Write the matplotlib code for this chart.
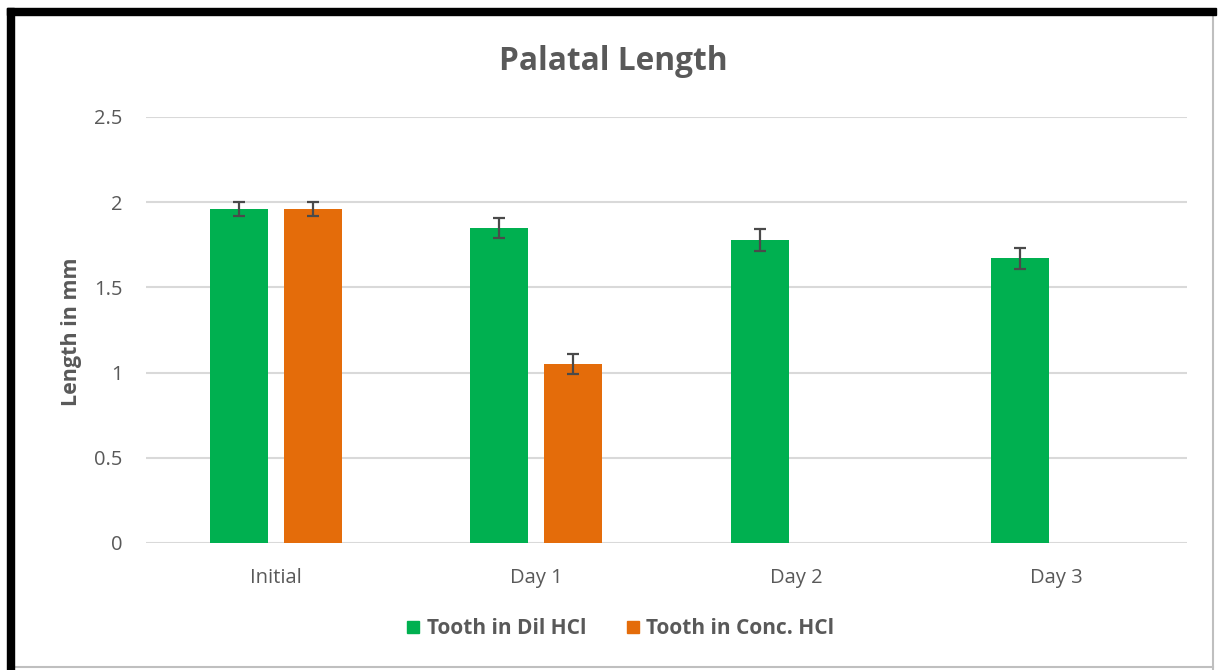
import numpy as np
import matplotlib
matplotlib.use("Agg")
import matplotlib.pyplot as plt
from matplotlib.patches import Rectangle
from matplotlib.lines import Line2D

# ── Data ──────────────────────────────────────────────────────────────────────
categories = ["Initial", "Day 1", "Day 2", "Day 3"]
series_names = ["Tooth in Dil HCl", "Tooth in Conc. HCl"]

dil_values = [1.96, 1.85, 1.78, 1.67]
dil_errors = [0.04, 0.06, 0.065, 0.06]

conc_values = [1.96, 1.05, np.nan, np.nan]
conc_errors = [0.04, 0.06, np.nan, np.nan]

yticks = [0, 0.5, 1, 1.5, 2, 2.5]
ytick_labels = ["0", "0.5", "1", "1.5", "2", "2.5"]

# ── Style ─────────────────────────────────────────────────────────────────────
GREEN = "#00B050"
ORANGE = "#E46C0A"
TEXT = "#595959"
GRID = "#D9D9D9"
ERR = "#4A4A4A"
plt.rcParams["font.family"] = ["Open Sans", "DejaVu Sans"]

fig = plt.figure(figsize=(12.18, 6.70), dpi=100)
W, H = 1218, 670
ax = fig.add_axes([146 / W, 1 - 543 / H, (1187 - 146) / W, (543 - 117) / H])

x = np.arange(len(categories))
bw = 0.223
off = 0.142

ax.bar(x - off, dil_values, bw, color=GREEN, zorder=3)
ax.bar(x + off, conc_values, bw, color=ORANGE, zorder=3)
err_kw = dict(fmt="none", ecolor=ERR, elinewidth=1.6, capsize=4.5, capthick=1.6, zorder=4)
ax.errorbar(x - off, dil_values, yerr=dil_errors, **err_kw)
ax.errorbar(x + off, conc_values, yerr=conc_errors, **err_kw)

ax.set_xlim(-0.5, len(categories) - 0.5)
ax.set_ylim(0, 2.5)
ax.set_yticks(yticks)
ax.set_yticklabels(ytick_labels)
ax.set_xticks(x)
ax.set_xticklabels(categories)
ax.tick_params(length=0, labelsize=14.5, colors=TEXT)
ax.tick_params(axis="y", pad=17)
ax.tick_params(axis="x", pad=18)
ax.grid(axis="y", color=GRID, linewidth=1.5, zorder=0)
ax.set_axisbelow(True)
for s in ax.spines.values():
    s.set_visible(False)

ax.set_ylabel("Length in mm", fontsize=15.5, fontweight="bold", color=TEXT)
ax.yaxis.set_label_coords((82 - 146) / 1041, 0.495)

fig.text(613 / W, 1 - 61 / H, "Palatal Length", ha="center", va="center",
         fontsize=22.8, fontweight="bold", color=TEXT)

handles = [Line2D([], [], marker="s", linestyle="none", markersize=8.5, color=GREEN),
           Line2D([], [], marker="s", linestyle="none", markersize=8.5, color=ORANGE)]
fig.legend(handles, series_names, loc="center", bbox_to_anchor=(620 / W, 1 - 629 / H),
           ncol=2, frameon=False, handlelength=0.7, handletextpad=0.3, columnspacing=1.9,
           prop=dict(size=15, weight="bold"), labelcolor=TEXT)

# frame: thick black top/left, thin grey right/bottom
fig.add_artist(Rectangle((7 / W, 1 - 15 / H), (1216 - 7) / W, 7 / H, transform=fig.transFigure,
                         color="black", zorder=10))
fig.add_artist(Rectangle((7 / W, 0), 7 / W, 1 - 8 / H, transform=fig.transFigure,
                         color="black", zorder=10))
fig.add_artist(Line2D([1213 / W, 1213 / W], [0, 1 - 15 / H], transform=fig.transFigure,
                      color="#BFBFBF", linewidth=1.5))
fig.add_artist(Line2D([14 / W, 1213 / W], [3 / H, 3 / H], transform=fig.transFigure,
                      color="#BFBFBF", linewidth=1.5))

fig.savefig("out.png", dpi=100)
